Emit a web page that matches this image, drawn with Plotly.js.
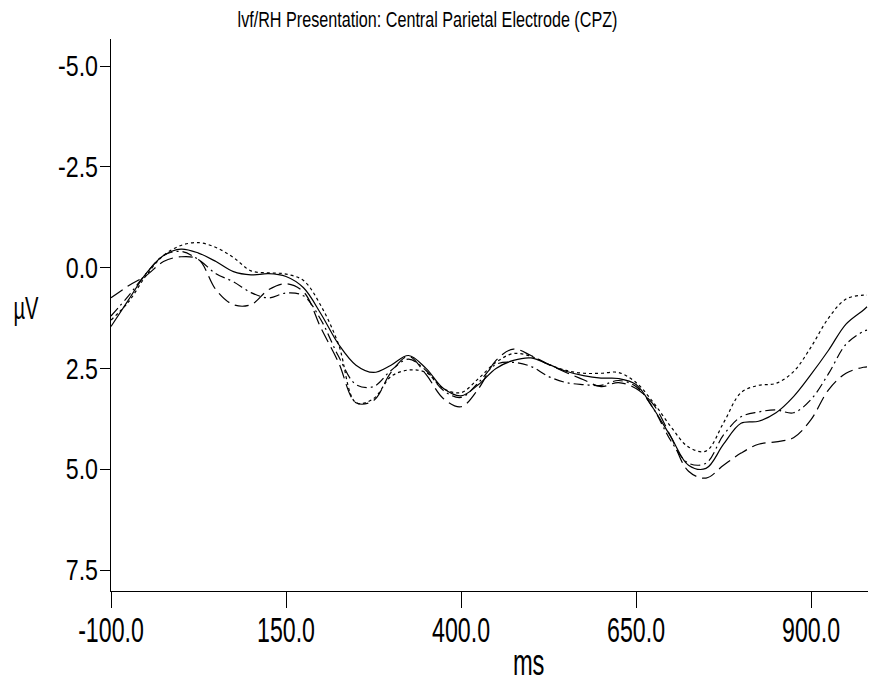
<!DOCTYPE html>
<html>
<head>
<meta charset="utf-8">
<script src="https://cdn.plot.ly/plotly-3.0.1.min.js"></script>
<style>
  html, body { margin: 0; padding: 0; background: #fff; }
  #chart { width: 870px; height: 687px; }
</style>
</head>
<body>
<div id="chart"></div>
<script>
// Time axis (ms)
const timeMs = [-100, -75, -50, -25, 0, 25, 50, 75, 100, 125, 150, 175, 200, 225, 250, 275, 300, 325, 350, 375, 400, 425, 450, 475, 500, 525, 550, 575, 600, 625, 650, 675, 700, 725, 750, 775, 800, 825, 850, 875, 900, 925, 950, 975, 980];

// Amplitudes (µV), negative plotted upward
const seriesSolid = [1.46, 0.80, 0.15, -0.30, -0.46, -0.36, -0.15, 0.10, 0.18, 0.15, 0.22, 0.50, 1.15, 1.90, 2.42, 2.60, 2.42, 2.18, 2.50, 3.00, 3.18, 2.90, 2.50, 2.30, 2.24, 2.40, 2.57, 2.68, 2.74, 2.75, 2.90, 3.50, 4.20, 4.90, 4.98, 4.38, 3.86, 3.81, 3.60, 3.20, 2.65, 2.05, 1.40, 1.05, 0.97];
const seriesDotted = [1.30, 0.85, 0.20, -0.30, -0.55, -0.62, -0.50, -0.25, 0.08, 0.13, 0.16, 0.32, 0.95, 1.90, 3.35, 3.25, 2.70, 2.54, 2.60, 3.00, 3.10, 2.75, 2.35, 2.13, 2.20, 2.40, 2.55, 2.62, 2.62, 2.60, 2.85, 3.35, 3.95, 4.45, 4.55, 3.85, 3.10, 2.92, 2.87, 2.58, 1.97, 1.25, 0.78, 0.68, 0.68];
const seriesDashDot = [1.20, 0.70, 0.15, -0.30, -0.40, -0.20, 0.15, 0.35, 0.62, 0.75, 0.63, 0.70, 1.30, 2.20, 2.90, 2.95, 2.55, 2.27, 2.55, 3.05, 3.22, 2.85, 2.40, 2.35, 2.45, 2.70, 2.85, 2.90, 2.92, 2.80, 2.95, 3.50, 4.30, 4.85, 4.85, 4.15, 3.70, 3.58, 3.53, 3.60, 3.27, 2.63, 1.90, 1.58, 1.55];
const seriesLongDash = [0.75, 0.45, 0.20, -0.15, -0.27, -0.20, 0.55, 0.92, 0.92, 0.55, 0.40, 0.60, 1.50, 2.35, 3.35, 3.30, 2.60, 2.20, 2.65, 3.25, 3.45, 3.00, 2.30, 2.02, 2.18, 2.40, 2.60, 2.78, 2.95, 2.85, 3.00, 3.40, 4.20, 5.05, 5.22, 4.90, 4.60, 4.38, 4.32, 4.22, 3.77, 3.03, 2.62, 2.47, 2.46];

const xTickVals = [-100, 150, 400, 650, 900];
const xTickText = ['-100.0', '150.0', '400.0', '650.0', '900.0'];
const yTickVals = [-5, -2.5, 0, 2.5, 5, 7.5];
const yTickText = ['-5.0', '-2.5', '0.0', '2.5', '5.0', '7.5'];

const FONT = '"Liberation Sans", Arial, sans-serif';

function mk(y, dash) {
  return {
    x: timeMs, y: y, type: 'scatter', mode: 'lines',
    line: { color: '#000', width: 1.2, dash: dash, shape: 'spline', smoothing: 1 },
    hoverinfo: 'skip', showlegend: false
  };
}

const data = [
  mk(seriesLongDash, '14px,6px'),
  mk(seriesDashDot, '10px,4px,2px,4px'),
  mk(seriesDotted, '3px,3px'),
  mk(seriesSolid, 'solid')
];

const layout = {
  width: 870, height: 687,
  margin: { l: 111, r: 2, t: 39, b: 96, pad: 0 },
  paper_bgcolor: '#fff', plot_bgcolor: '#fff',
  font: { family: FONT, color: '#000', size: 29 },
  title: {
    text: 'lvf/RH Presentation: Central Parietal Electrode (CPZ)',
    font: { family: FONT, size: 21, color: '#000' },
    xref: 'container', yref: 'container',
    x: 427.5 / 870, xanchor: 'center',
    y: 1 - 19 / 687, yanchor: 'middle'
  },
  xaxis: {
    range: [-100, 981.4], showgrid: false, zeroline: false,
    showline: true, linecolor: '#000', linewidth: 1.2,
    ticks: 'outside', ticklen: 16, tickwidth: 1, tickcolor: '#000',
    tickvals: xTickVals, ticktext: xTickText,
    tickfont: { family: FONT, size: 29, color: '#000' }
  },
  yaxis: {
    range: [8.02, -5.67], showgrid: false, zeroline: false,
    showline: true, linecolor: '#000', linewidth: 1.2,
    ticks: 'outside', ticklen: 10, tickwidth: 1, tickcolor: '#000',
    tickvals: yTickVals, ticktext: yTickText,
    tickfont: { family: FONT, size: 29, color: '#000' }
  },
  annotations: [
    { text: 'µV', xref: 'paper', yref: 'paper', x: (25.5 - 111) / 757, y: 1 - (308 - 39) / 552,
      xanchor: 'center', yanchor: 'middle', showarrow: false,
      font: { family: FONT, size: 32, color: '#000' } },
    { text: 'ms', xref: 'paper', yref: 'paper', x: (528 - 111) / 757, y: -(662 - 591) / 552,
      xanchor: 'center', yanchor: 'middle', showarrow: false,
      font: { family: FONT, size: 37, color: '#000' } }
  ]
};

// Narrow/tall lettering of the original: scale text about its anchor
function stretch(el, sx, sy, dx, dy) {
  const bb = el.getBBox();
  const anchor = el.getAttribute('text-anchor') || 'start';
  const ax = anchor === 'end' ? bb.x + bb.width : anchor === 'middle' ? bb.x + bb.width / 2 : bb.x;
  const ay = bb.y + bb.height / 2;
  const orig = el.getAttribute('transform') || '';
  el.setAttribute('transform',
    orig + ' translate(' + (dx || 0) + ',' + (dy || 0) + ') translate(' + ax + ',' + ay + ') scale(' + sx + ',' + sy + ') translate(' + (-ax) + ',' + (-ay) + ')');
}

Plotly.newPlot('chart', data, layout, { displayModeBar: false, staticPlot: true }).then(function (gd) {
  gd.querySelectorAll('.ytick text').forEach(function (t) { stretch(t, 0.80, 1.0, 4, 0); });
  gd.querySelectorAll('.xtick text').forEach(function (t) { stretch(t, 0.80, 1.2, 0, -3); });
  gd.querySelectorAll('.gtitle').forEach(function (t) { stretch(t, 0.77, 1.04, 0, 0); });
  const ann = gd.querySelectorAll('.annotation-text');
  if (ann[0]) stretch(ann[0], 0.63, 1.0, 0, 0);
  if (ann[1]) stretch(ann[1], 0.64, 1.0, 0, 0);
});
</script>
</body>
</html>
